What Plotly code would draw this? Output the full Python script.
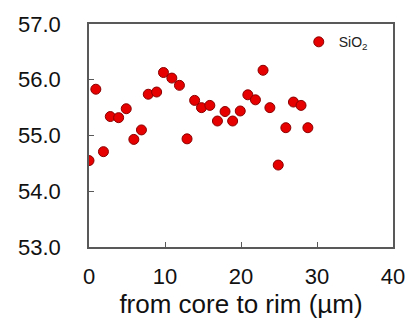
import plotly.graph_objects as go

# SiO2 profile across the grain, from core to rim
distance_um = [0.0, 0.9, 1.9, 2.8, 3.9, 4.9, 5.9, 6.9, 7.8, 8.9,
               9.8, 10.9, 11.9, 12.9, 13.9, 14.8, 15.9, 16.9, 17.9, 18.9,
               19.9, 20.9, 21.9, 22.9, 23.8, 24.9, 25.9, 26.9, 27.9, 28.8]
sio2_wt = [54.55, 55.83, 54.71, 55.34, 55.32, 55.48, 54.93, 55.10, 55.74, 55.78,
           56.13, 56.03, 55.90, 54.94, 55.63, 55.50, 55.54, 55.26, 55.43, 55.26,
           55.44, 55.73, 55.64, 56.17, 55.50, 54.47, 55.14, 55.60, 55.54, 55.14]

y_ticks = [53.0, 54.0, 55.0, 56.0, 57.0]
x_ticks = [0, 10, 20, 30, 40]

axis_color = "#595959"
font_family = "Liberation Sans, Arial, sans-serif"

fig = go.Figure()
fig.add_trace(go.Scatter(
    x=distance_um, y=sio2_wt, mode="markers", name="SiO<sub>2</sub>",
    marker=dict(size=10, color="#e60000", line=dict(color="#8b0000", width=1)),
))

fig.update_layout(
    width=417, height=320,
    margin=dict(l=89, r=24, t=20, b=73),
    plot_bgcolor="white", paper_bgcolor="white",
    font=dict(family=font_family, size=22, color="#111111"),
    showlegend=True,
    legend=dict(x=0.69, y=0.99, xanchor="left", yanchor="top",
                bgcolor="rgba(0,0,0,0)", font=dict(size=14, color="#222222"),
                itemwidth=30),
    xaxis=dict(
        range=[0, 40], tickvals=x_ticks, ticktext=[str(v) for v in x_ticks],
        ticks="inside", ticklen=5, tickcolor=axis_color, tickwidth=1,
        showline=True, linecolor=axis_color, linewidth=1.5, mirror=True,
        showgrid=False, zeroline=False, ticklabelstandoff=9,
        title=dict(text="from core to rim (µm)", standoff=0,
                   font=dict(size=26)),
    ),
    yaxis=dict(
        range=[53, 57], tickvals=y_ticks, ticktext=[f"{v:.1f}" for v in y_ticks],
        ticks="inside", ticklen=5, tickcolor=axis_color, tickwidth=1,
        showline=True, linecolor=axis_color, linewidth=1.5, mirror=True,
        showgrid=False, zeroline=False, ticklabelstandoff=22,
    ),
)

fig.write_html("out.html")
